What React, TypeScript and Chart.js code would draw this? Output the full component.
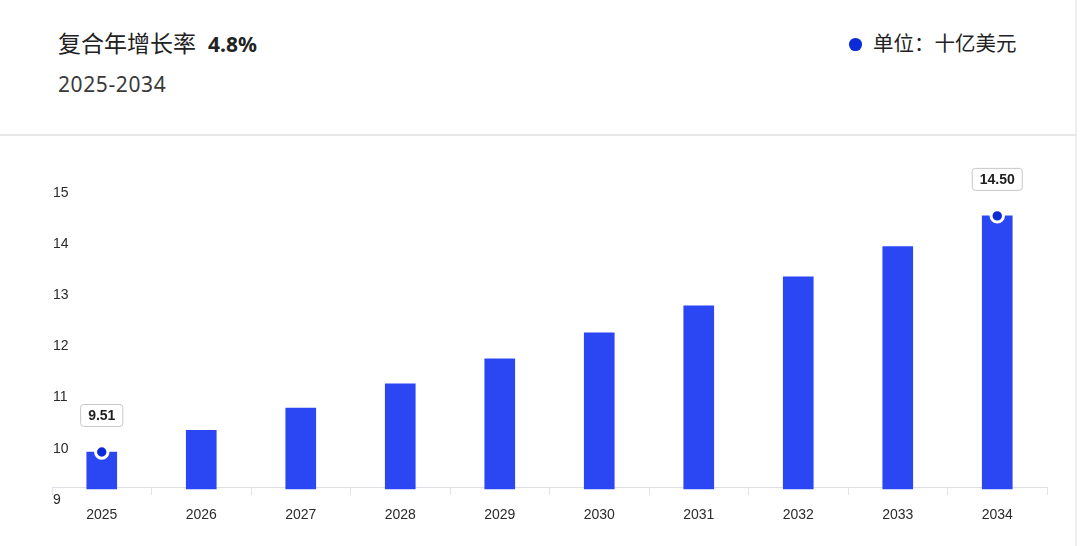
import React, { useEffect, useRef } from 'react';
import { Chart, registerables } from 'chart.js';

Chart.register(...registerables);

const years = ['2025', '2026', '2027', '2028', '2029', '2030', '2031', '2032', '2033', '2034'];
const marketValues = [9.51, 9.97, 10.44, 10.95, 11.48, 12.03, 12.6, 13.21, 13.85, 14.5];
const highlightValues = [9.51, null, null, null, null, null, null, null, null, 14.5];
const yTickValues = [9, 10, 11, 12, 13, 14, 15];
const titleText = '复合年增长率';
const cagrText = '4.8%';
const periodText = '2025-2034';
const unitText = '单位：十亿美元';

const BAR_COLOR = '#2b47f4';
const DOT_COLOR = '#0b2bd9';
const TICK_FONT = { family: '"Liberation Sans", Arial, sans-serif', size: 14 };

const valueLabelPlugin = {
  id: 'valueLabels',
  afterDatasetsDraw(chart: any) {
    const meta = chart.getDatasetMeta(1);
    const ds = chart.data.datasets[1];
    const ctx = chart.ctx;
    ctx.save();
    ctx.font = 'bold 14px "Liberation Sans", Arial, sans-serif';
    meta.data.forEach((pt: any, i: number) => {
      const v = ds.data[i];
      if (v == null) return;
      const text = Number(v).toFixed(2);
      const w = ctx.measureText(text).width + 15;
      const h = 22;
      const cx = pt.x;
      const cy = pt.y - 36.5;
      ctx.beginPath();
      ctx.roundRect(cx - w / 2, cy - h / 2, w, h, 3);
      ctx.fillStyle = '#ffffff';
      ctx.fill();
      ctx.lineWidth = 1;
      ctx.strokeStyle = '#c8c8c8';
      ctx.stroke();
      ctx.fillStyle = '#1e1e1e';
      ctx.textAlign = 'center';
      ctx.textBaseline = 'middle';
      ctx.fillText(text, cx, cy + 0.5);
    });
    ctx.restore();
  },
};

function BarChart() {
  const ref = useRef<HTMLCanvasElement | null>(null);
  useEffect(() => {
    if (!ref.current) return;
    const chart = new Chart(ref.current, {
      type: 'bar',
      data: {
        labels: years,
        datasets: [
          {
            type: 'bar',
            data: marketValues,
            backgroundColor: BAR_COLOR,
            barThickness: 30,
            yAxisID: 'yBar',
            base: 8.728,
            clip: false,
            order: 1,
          } as any,
          {
            type: 'line',
            data: highlightValues,
            showLine: false,
            yAxisID: 'yBar',
            pointRadius: 6.2,
            pointBorderWidth: 3,
            pointBackgroundColor: DOT_COLOR,
            pointBorderColor: '#ffffff',
            clip: false,
            order: 0,
          } as any,
        ],
      },
      options: {
        responsive: false,
        animation: false,
        devicePixelRatio: 1,
        events: [],
        layout: { padding: { left: 52, right: 33, top: 34, bottom: 0 } },
        plugins: {
          legend: { display: false },
          tooltip: { enabled: false },
        },
        scales: {
          x: {
            offset: true,
            z: 1,
            grid: {
              display: true,
              offset: true,
              drawOnChartArea: false,
              drawTicks: true,
              tickLength: 8,
              color: '#e3e3e3',
            },
            border: { display: true, color: 'rgba(214,214,222,0.8)', width: 1 },
            ticks: { color: '#2a2a2a', font: TICK_FONT, padding: 12, maxRotation: 0 },
            afterFit(s: any) {
              s.height = 59;
            },
          },
          y: {
            position: 'left',
            min: 9,
            max: 15.19,
            afterBuildTicks(s: any) {
              s.ticks = yTickValues.map((v) => ({ value: v }));
            },
            afterFit(s: any) {
              s.width = 0;
            },
            grid: { display: false },
            border: { display: false },
            ticks: { mirror: true, padding: 1, labelOffset: 13, color: '#2a2a2a', font: TICK_FONT },
          },
          yBar: {
            display: false,
            position: 'left',
            min: 8.77,
            max: 15.47,
          },
        },
      } as any,
      plugins: [valueLabelPlugin],
    });
    return () => chart.destroy();
  }, []);
  return <canvas ref={ref} width={1080} height={410} style={{ display: 'block', width: 1080, height: 410 }} />;
}

export default function App() {
  return (
    <div
      style={{
        position: 'fixed',
        left: 0,
        top: 0,
        width: 1080,
        height: 546,
        background: '#ffffff',
        overflow: 'hidden',
        fontFamily: '"Noto Sans", "Noto Sans CJK SC", sans-serif',
      }}
    >
      <div style={{ position: 'absolute', left: 1075, top: 0, width: 2, height: 546, background: '#efefef' }} />
      <div style={{ position: 'absolute', left: 0, top: 134, width: 1077, height: 2, background: '#e8e8e8' }} />
      <div
        style={{
          position: 'absolute',
          left: 58,
          top: 31,
          fontSize: 23,
          lineHeight: '23px',
          color: '#222',
          whiteSpace: 'nowrap',
          fontFamily: '"Noto Sans CJK SC", sans-serif',
        }}
      >
        <span>{titleText}</span>
        <span style={{ fontWeight: 700, fontSize: 21, marginLeft: 12, fontFamily: '"Noto Sans", sans-serif' }}>{cagrText}</span>
      </div>
      <div
        style={{
          position: 'absolute',
          left: 58,
          top: 74,
          fontSize: 21,
          lineHeight: '21px',
          letterSpacing: '0.6px',
          color: '#3a3a3a',
          whiteSpace: 'nowrap',
        }}
      >
        {periodText}
      </div>
      <div style={{ position: 'absolute', left: 849, top: 38, width: 12.6, height: 12.6, borderRadius: '50%', background: DOT_COLOR }} />
      <div
        style={{
          position: 'absolute',
          left: 873,
          top: 32,
          fontSize: 20.5,
          lineHeight: '21px',
          color: '#222',
          whiteSpace: 'nowrap',
          fontFamily: '"Noto Sans CJK SC", sans-serif',
        }}
      >
        {unitText}
      </div>
      <div style={{ position: 'absolute', left: 0, top: 136 }}>
        <BarChart />
      </div>
    </div>
  );
}
